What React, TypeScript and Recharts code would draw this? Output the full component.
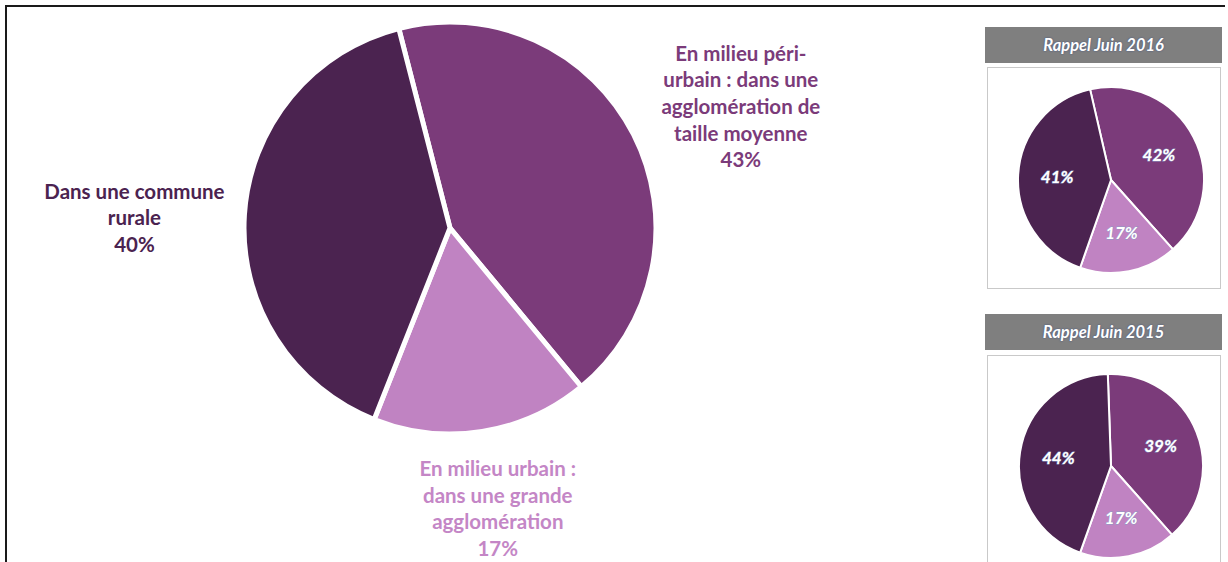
import { PieChart, Pie, Cell } from "recharts";

// Répartition actuelle
const mainNames = [
  ["En milieu péri-", "urbain : dans une", "agglomération de", "taille moyenne"],
  ["En milieu urbain :", "dans une grande", "agglomération"],
  ["Dans une commune", "rurale"],
];
const mainValues = [43, 17, 40];

// Rappels
const values2016 = [42, 17, 41];
const values2015 = [39, 17, 44];
const recallTitles = ["Rappel Juin 2016", "Rappel Juin 2015"];

const COLORS = ["#7b3b7a", "#c083c2", "#4b2350"];
const LABEL_COLORS = ["#7b3b7a", "#c486c6", "#4b2350"];
// petit décalage des étiquettes du grand camembert
const LABEL_NUDGE = [
  [10, 22],
  [3, -2],
  [-1, 10],
];

const RADIAN = Math.PI / 180;
const FONT = "Lato, 'Open Sans', sans-serif";

const toData = (vals: number[]) => vals.map((v, i) => ({ name: "s" + i, value: v }));

const renderMainLabel = (props: any) => {
  const { cx, cy, midAngle, outerRadius, index, value } = props;
  const r = outerRadius * (index === 1 ? 1.39 : 1.53);
  const x = cx + r * Math.cos(-midAngle * RADIAN) + LABEL_NUDGE[index][0];
  const y = cy + r * Math.sin(-midAngle * RADIAN) + LABEL_NUDGE[index][1];
  const lines = [...mainNames[index], value + "%"];
  const lh = 26.6;
  const y0 = y - ((lines.length - 1) / 2) * lh + 7;
  return (
    <text
      key={"lbl" + index}
      x={x}
      y={y0}
      textAnchor="middle"
      fill={LABEL_COLORS[index]}
      fontFamily={FONT}
      fontWeight={700}
      fontSize={20.5}
    >
      {lines.map((l, i) => (
        <tspan key={i} x={x} y={y0 + i * lh}>
          {l}
        </tspan>
      ))}
    </text>
  );
};

const renderSmallLabel = (props: any) => {
  const { cx, cy, midAngle, outerRadius, index, value } = props;
  const r = outerRadius * 0.58;
  const x = cx + r * Math.cos(-midAngle * RADIAN);
  const y = cy + r * Math.sin(-midAngle * RADIAN);
  return (
    <text
      key={"s" + index}
      x={x}
      y={y + 6}
      textAnchor="middle"
      fill="#ffffff"
      stroke="#8a9cc4"
      strokeWidth={0.8}
      paintOrder="stroke"
      fontFamily={FONT}
      fontStyle="italic"
      fontWeight={700}
      fontSize={17}
    >
      {value}%
    </text>
  );
};

const headerStyle = (top: number): React.CSSProperties => ({
  position: "absolute",
  left: 985,
  top,
  width: 237,
  height: 36,
  background: "#7f7f7f",
  color: "#fff",
  fontFamily: FONT,
  fontStyle: "italic",
  fontWeight: 700,
  fontSize: 16.5,
  lineHeight: "36px",
  textAlign: "center",
  textShadow: "0 0 2px #3c4f80",
});

const boxStyle = (top: number, height: number): React.CSSProperties => ({
  position: "absolute",
  left: 987,
  top,
  width: 232,
  height,
  border: "1px solid #c9c9c9",
  background: "#fff",
});

export default function App() {
  return (
    <div
      style={{
        position: "absolute",
        left: 0,
        top: 0,
        width: 1228,
        height: 562,
        background: "#fff",
        overflow: "hidden",
      }}
    >
      {/* cadre */}
      <div style={{ position: "absolute", left: 5, top: 5, width: 1220, height: 2, background: "#1a1a1a" }} />
      <div style={{ position: "absolute", left: 5, top: 5, width: 2, height: 560, background: "#1a1a1a" }} />

      <div style={headerStyle(27)}>{recallTitles[0]}</div>
      <div style={boxStyle(67, 220)} />
      <div style={headerStyle(314)}>{recallTitles[1]}</div>
      <div style={boxStyle(355, 220)} />

      <div style={{ position: "absolute", left: 0, top: 0 }}>
        <PieChart width={1228} height={562} margin={{ top: 0, right: 0, bottom: 0, left: 0 }}>
          <Pie
            data={toData(mainValues)}
            dataKey="value"
            cx={450}
            cy={228}
            outerRadius={206}
            startAngle={104.4}
            endAngle={-255.6}
            stroke="#ffffff"
            strokeWidth={5}
            label={renderMainLabel}
            labelLine={false}
            isAnimationActive={false}
          >
            {mainValues.map((_, i) => (
              <Cell key={i} fill={COLORS[i]} />
            ))}
          </Pie>
          <Pie
            data={toData(values2016)}
            dataKey="value"
            cx={1111}
            cy={180}
            outerRadius={93}
            startAngle={103}
            endAngle={-257}
            stroke="#ffffff"
            strokeWidth={2}
            label={renderSmallLabel}
            labelLine={false}
            isAnimationActive={false}
          >
            {values2016.map((_, i) => (
              <Cell key={i} fill={COLORS[i]} />
            ))}
          </Pie>
          <Pie
            data={toData(values2015)}
            dataKey="value"
            cx={1111}
            cy={466}
            outerRadius={92}
            startAngle={92}
            endAngle={-268}
            stroke="#ffffff"
            strokeWidth={2}
            label={renderSmallLabel}
            labelLine={false}
            isAnimationActive={false}
          >
            {values2015.map((_, i) => (
              <Cell key={i} fill={COLORS[i]} />
            ))}
          </Pie>
        </PieChart>
      </div>
    </div>
  );
}
